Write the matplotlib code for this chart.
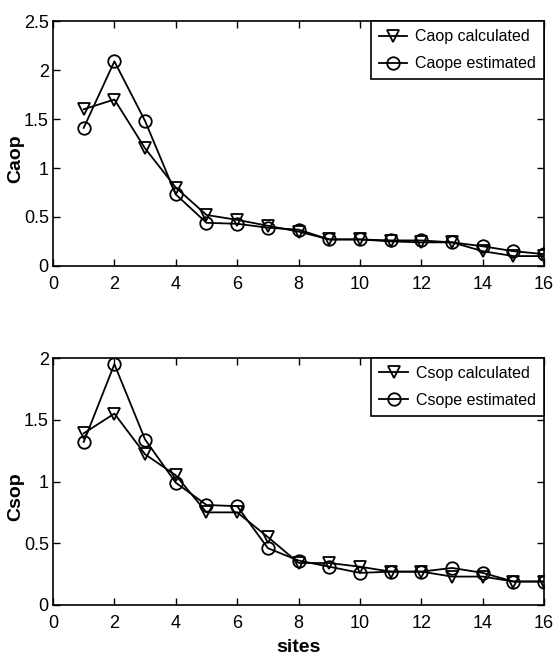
import matplotlib
matplotlib.use("Agg")
import matplotlib.pyplot as plt

plt.rcParams['font.family'] = ['Liberation Sans', 'DejaVu Sans']

sites = list(range(1, 17))

caop_calculated = [1.60, 1.70, 1.20, 0.80, 0.52, 0.47, 0.41, 0.35, 0.27, 0.27, 0.25, 0.24,
                   0.24, 0.15, 0.10, 0.10]
caope_estimated = [1.41, 2.09, 1.48, 0.73, 0.44, 0.43, 0.39, 0.37, 0.27, 0.27, 0.26, 0.26,
                   0.24, 0.20, 0.15, 0.12]

csop_calculated = [1.39, 1.55, 1.22, 1.05, 0.75, 0.75, 0.55, 0.34, 0.34, 0.31, 0.27, 0.27,
                   0.23, 0.23, 0.19, 0.19]
csope_estimated = [1.32, 1.95, 1.34, 0.99, 0.81, 0.80, 0.46, 0.36, 0.31, 0.26, 0.27, 0.27,
                   0.30, 0.26, 0.19, 0.19]

panels = [
    ("Caop", caop_calculated, caope_estimated, "Caop calculated", "Caope estimated",
     [0, 0.5, 1, 1.5, 2, 2.5], ["0", "0.5", "1", "1.5", "2", "2.5"]),
    ("Csop", csop_calculated, csope_estimated, "Csop calculated", "Csope estimated",
     [0, 0.5, 1, 1.5, 2], ["0", "0.5", "1", "1.5", "2"]),
]

fig = plt.figure(figsize=(5.55, 6.63), dpi=100, facecolor='white')
ax_top = fig.add_axes([0.0955, 0.599, 0.885, 0.369])
ax_bot = fig.add_axes([0.0955, 0.0875, 0.885, 0.3725])

for ax, (ylab, calc, est, lab_calc, lab_est, yt, ytl) in zip([ax_top, ax_bot], panels):
    ax.plot(sites, calc, color='black', linewidth=1.3, marker='v', markersize=9,
            markerfacecolor='none', markeredgecolor='black', markeredgewidth=1.3,
            label=lab_calc)
    ax.plot(sites, est, color='black', linewidth=1.3, marker='o', markersize=9,
            markerfacecolor='none', markeredgecolor='black', markeredgewidth=1.3,
            label=lab_est)
    ax.set_xlim(0, 16)
    ax.set_ylim(yt[0], yt[-1])
    ax.set_xticks([0, 2, 4, 6, 8, 10, 12, 14, 16])
    ax.set_yticks(yt)
    ax.set_yticklabels(ytl)
    ax.tick_params(direction='in', top=True, right=True, length=5, width=1,
                   labelsize=13)
    ax.tick_params(axis='x', pad=7)
    ax.tick_params(axis='y', pad=3)
    for sp in ax.spines.values():
        sp.set_linewidth(1.2)
    ax.set_ylabel(ylab, fontsize=14, fontweight='bold')
    ax.yaxis.set_label_coords(-0.058, 0.44)

    # legend box sits flush in the upper right corner, like matlab's
    leg = ax.legend(loc='upper right', fontsize=11.5, frameon=True, fancybox=False,
                    edgecolor='black', borderaxespad=0, handlelength=1.8,
                    handletextpad=0.5, borderpad=0.5, labelspacing=0.75)
    leg.get_frame().set_linewidth(1.2)
    leg.get_frame().set_alpha(1)

ax_bot.set_xlabel("sites", fontsize=14, fontweight='bold', labelpad=5)

fig.savefig("out.png", dpi=100, facecolor='white')
